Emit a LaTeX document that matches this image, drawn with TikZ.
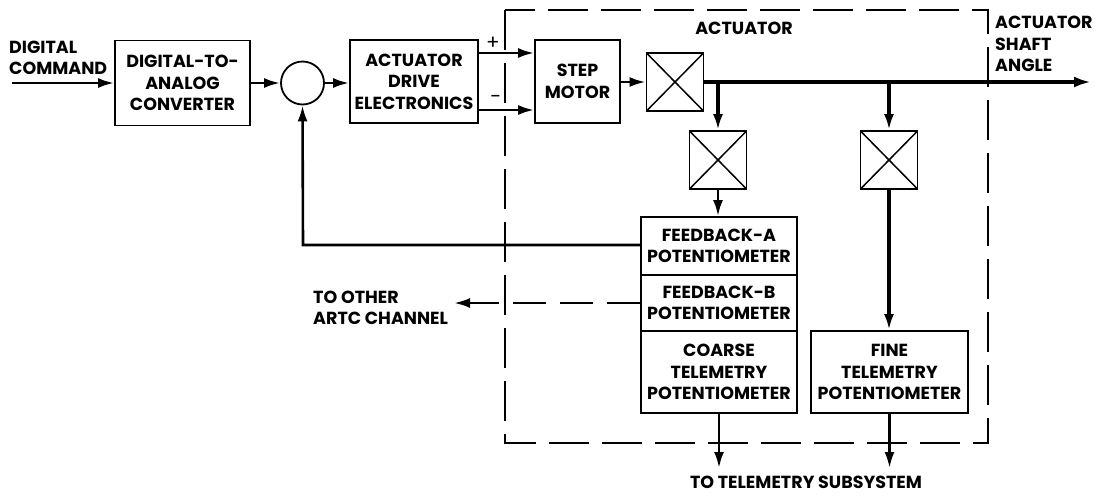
\documentclass[tikz,border=0pt]{standalone}
\usepackage{fontspec}
\setmainfont{Poppins}
\usetikzlibrary{arrows.meta}
\begin{document}
\begin{tikzpicture}[x=1pt,y=-1pt,
  every node/.style={font=\fontsize{17.5}{21.5}\selectfont\bfseries, inner sep=0pt},
  blk/.style={draw, line width=1.8pt, align=center, minimum width=#1},
  xbox/.style={draw, line width=1.8pt, minimum width=57pt, minimum height=58pt,
    path picture={\draw[line width=1.5pt] (path picture bounding box.north west) -- (path picture bounding box.south east)
      (path picture bounding box.south west) -- (path picture bounding box.north east);}},
  sig/.style={line width=2.6pt, -{Latex[length=16pt,width=10pt]}},
  shaftarr/.style={line width=4pt, -{Latex[length=17pt,width=11pt]}},
  bound/.style={line width=1.6pt, dash pattern=on 40pt off 13pt},
  dsig/.style={line width=2.6pt, dash pattern=on 33pt off 14pt, -{Latex[length=16pt,width=10pt]}},
  lbl/.style={align=left}
]
\useasboundingbox (0,0) rectangle (1098,496);
% actuator boundary
\draw[bound] (505,10) rectangle (988,443);
\node (actlbl) at (744,28) {ACTUATOR};
% nodes
\node[lbl, anchor=west] (cmdtxt) at (9,58) {DIGITAL\\COMMAND};
\coordinate (in) at (12,83);
\node[blk=135pt, minimum height=85pt] (dac) at (182.5,83) {DIGITAL-TO-\\ANALOG\\CONVERTER};
\node[draw, circle, line width=1.8pt, minimum size=43pt] (sum) at (302.5,83) {};
\node[blk=128pt, minimum height=83pt] (ade) at (414,81.5) {ACTUATOR\\DRIVE\\ELECTRONICS};
\node[blk=85pt, minimum height=83pt] (sm) at (577.5,81.5) {STEP\\MOTOR};
\node[xbox] (x1) at (675,82) {};
\node[xbox] (x2) at (718,160) {};
\node[xbox] (x3) at (889,160) {};
\node[blk=156pt, minimum height=58pt] (fba) at (719,246) {FEEDBACK-A\\POTENTIOMETER};
\node[blk=156pt, minimum height=56pt] (fbb) at (719,303) {FEEDBACK-B\\POTENTIOMETER};
\node[blk=156pt, minimum height=82pt] (coarse) at (719,372) {COARSE\\TELEMETRY\\POTENTIOMETER};
\node[blk=157pt, minimum height=82pt] (fine) at (889.5,372) {FINE\\TELEMETRY\\POTENTIOMETER};
\coordinate (shaftend) at (1091,82);
\coordinate (plusL) at (478,53);
\coordinate (minusL) at (478,110);
\coordinate (fbcorner) at (303,245);
\coordinate (other) at (454,303);
\coordinate (out1) at (719,468);
\coordinate (out2) at (889.5,468);
% labels
\node[lbl, anchor=west] (shaftlbl) at (995,44) {ACTUATOR\\SHAFT\\ANGLE};
\node[font=\fontsize{20}{22}\selectfont] (plus) at (493,43) {+};
\node[font=\fontsize{20}{22}\selectfont] (minus) at (496,99) {-};
\node[lbl, anchor=west] (othertxt) at (313,308) {TO OTHER\\ARTC CHANNEL};
\node (teltxt) at (806,482) {TO TELEMETRY SUBSYSTEM};
% connectors
\draw[sig] (in) -- (dac.west |- in);
\draw[sig] (dac.east |- sum.west) -- (sum.west);
\draw[sig] (sum.east) -- (ade.west |- sum.east);
\draw[sig] (plusL) -- (sm.west |- plusL);
\draw[sig] (minusL) -- (sm.west |- minusL);
\draw[sig] (sm.east |- x1.west) -- (x1.west);
\draw[shaftarr] (x1.east) -- (shaftend);
\draw[sig, line width=3.4pt] (x2.north |- x1.east) -- (x2.north);
\draw[sig, line width=3.4pt] (x3.north |- x1.east) -- (x3.north);
\draw[sig] (x2.south) -- (x2.south |- fba.north);
\draw[sig, line width=3.4pt] (x3.south) -- (x3.south |- fine.north);
\draw[sig] (fba.west |- fbcorner) -- (fbcorner) -- (sum.south);
\draw[dsig] (fbb.west) -- (other);
\draw[sig] (coarse.south) -- (out1);
\draw[sig] (fine.south) -- (out2);
\end{tikzpicture}
\end{document}
